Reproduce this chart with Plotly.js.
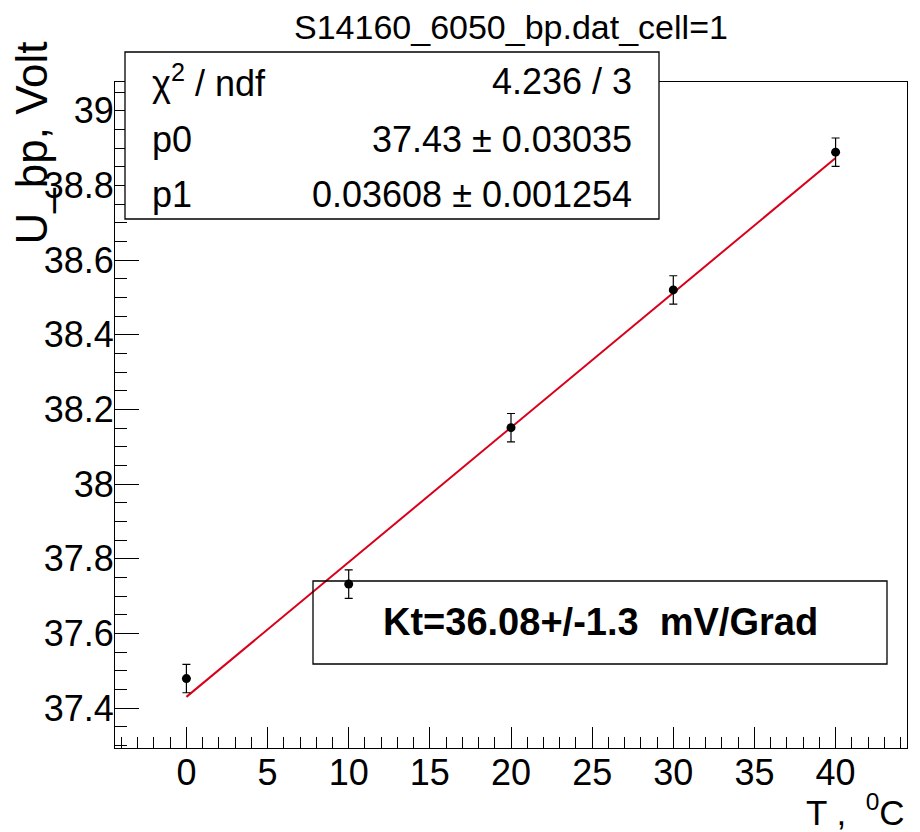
<!DOCTYPE html>
<html>
<head>
<meta charset="utf-8">
<script src="https://cdn.plot.ly/plotly-3.0.1.min.js"></script>
<style>
  html, body { margin: 0; padding: 0; background: #fff; }
  #plot { width: 920px; height: 832px; }
</style>
</head>
<body>
<div id="plot"></div>
<script>
// Breakdown voltage vs temperature, cell 1
const temperature = [0, 10, 20, 30, 40];
const voltage = [37.479, 37.732, 38.151, 38.520, 38.889];
const voltageErr = [0.038, 0.038, 0.038, 0.038, 0.038];

// Linear fit pol1: U = p0 + p1 * T
const fitP0 = 37.43;
const fitP1 = 0.03608;
const fitRange = [0, 40];

const statsLabels = ['χ<sup>2</sup> / ndf', 'p0', 'p1'];
const statsValues = ['4.236 / 3', '37.43 ± 0.03035', '0.03608 ± 0.001254'];
const slopeText = 'Kt=36.08+/-1.3  mV/Grad';
const titleText = 'S14160_6050_bp.dat_cell=1';

const W = 920, H = 832;
const M = { l: 115, r: 13, t: 82, b: 84 };
const PW = W - M.l - M.r, PH = H - M.t - M.b;
const FONT = '"Liberation Sans", Arial, Helvetica, sans-serif';

// pixel position -> paper coordinates
const px = x => (x - M.l) / PW;
const py = y => (H - M.b - y) / PH;

const fitY = fitRange.map(t => fitP0 + fitP1 * t);

const traces = [
  {
    x: fitRange, y: fitY, type: 'scatter', mode: 'lines',
    line: { color: '#d8001a', width: 2 },
    hoverinfo: 'skip'
  },
  {
    x: temperature, y: voltage, type: 'scatter', mode: 'markers',
    marker: { color: '#000', size: 9 },
    error_y: { type: 'data', array: voltageErr, visible: true, color: '#000', thickness: 1.2, width: 4 },
    hoverinfo: 'x+y'
  }
];

const shapes = [
  // statistics box (opaque, hides the frame behind it)
  { type: 'rect', xref: 'paper', yref: 'paper', layer: 'above',
    x0: px(125), x1: px(659), y0: py(219), y1: py(52),
    fillcolor: '#fff', line: { color: '#000', width: 1.3 } },
  // slope box (outline only)
  { type: 'rect', xref: 'paper', yref: 'paper', layer: 'above',
    x0: px(313), x1: px(887), y0: py(664), y1: py(581),
    fillcolor: 'rgba(0,0,0,0)', line: { color: '#000', width: 1.3 } }
];

const rowY = [81, 139, 194];
const annotations = [];
statsLabels.forEach((s, i) => {
  annotations.push({ xref: 'paper', yref: 'paper', x: px(150), y: py(rowY[i]),
    xanchor: 'left', yanchor: 'middle', showarrow: false, text: s,
    font: { family: FONT, size: 36, color: '#000' } });
  annotations.push({ xref: 'paper', yref: 'paper', x: px(634), y: py(rowY[i]),
    xanchor: 'right', yanchor: 'middle', showarrow: false, text: statsValues[i],
    font: { family: FONT, size: 36, color: '#000' } });
});
annotations.push({ xref: 'paper', yref: 'paper', x: px(600), y: py(622),
  xanchor: 'center', yanchor: 'middle', showarrow: false, text: '<b>' + slopeText + '</b>',
  font: { family: FONT, size: 38, color: '#000' } });
annotations.push({ xref: 'paper', yref: 'paper', x: px(511), y: py(27),
  xanchor: 'center', yanchor: 'middle', showarrow: false, text: titleText,
  font: { family: FONT, size: 34, color: '#000' } });
// axis titles
annotations.push({ xref: 'paper', yref: 'paper', x: px(31), y: py(40),
  xanchor: 'center', yanchor: 'top', showarrow: false, textangle: -90, text: 'U_bp, Volt',
  font: { family: FONT, size: 44, color: '#000' } });
annotations.push({ xref: 'paper', yref: 'paper', x: px(907), y: py(834),
  xanchor: 'right', yanchor: 'bottom', showarrow: false, text: 'T ,  <sup>0</sup>C',
  font: { family: FONT, size: 35, color: '#000' } });

const layout = {
  width: W, height: H,
  margin: M,
  paper_bgcolor: '#fff', plot_bgcolor: '#fff',
  showlegend: false,
  font: { family: FONT, size: 36, color: '#000' },
  xaxis: {
    range: [-4.4, 44.4], tick0: 0, dtick: 5,
    ticks: 'inside', ticklen: 21, tickwidth: 1, tickcolor: '#000',
    minor: { dtick: 1, ticks: 'inside', ticklen: 11, tickwidth: 1, tickcolor: '#000' },
    showgrid: false, zeroline: false,
    showline: true, linecolor: '#000', linewidth: 1, mirror: true,
    tickfont: { family: FONT, size: 36, color: '#000' },
    ticklabelstandoff: -7
  },
  yaxis: {
    range: [37.293, 39.077], tick0: 37.4, dtick: 0.2,
    ticks: 'inside', ticklen: 24, tickwidth: 1, tickcolor: '#000',
    minor: { dtick: 0.05, ticks: 'inside', ticklen: 12, tickwidth: 1, tickcolor: '#000' },
    showgrid: false, zeroline: false,
    showline: true, linecolor: '#000', linewidth: 1, mirror: true,
    tickfont: { family: FONT, size: 36, color: '#000' },
    ticklabelstandoff: -7
  },
  shapes: shapes,
  annotations: annotations
};

Plotly.newPlot('plot', traces, layout, { displayModeBar: false, staticPlot: true });
</script>
</body>
</html>
